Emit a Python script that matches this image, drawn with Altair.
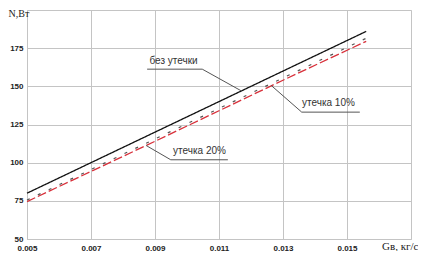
import altair as alt
import pandas as pd

# Series (G in kg/s, N in W)
G = [0.005, 0.009, 0.013, 0.0156]
N_none = [80, 120, 160, 186]
N_10 = [75.5, 115.5, 155.5, 181.5]
N_20 = [74.5, 114, 154, 179.5]

x_ticks = [0.005, 0.007, 0.009, 0.011, 0.013, 0.015, 0.017]
y_ticks = [50, 75, 100, 125, 150, 175, 200]

# Annotations
lab_text = ["без утечки", "утечка 10%", "утечка 20%"]
lab_x = [0.00958, 0.01442, 0.01039]
lab_y = [166.8, 139.3, 107.4]
under_x1 = [0.008754, 0.013585, 0.009492]
under_x2 = [0.010477, 0.01540, 0.011277]
under_y = [161.25, 133.1, 101.9]
lead_x1 = [0.010477, 0.013585, 0.009492]
lead_y1 = [161.25, 133.1, 101.9]
lead_x2 = [0.011708, 0.012630, 0.008723]
lead_y2 = [146.9, 150.6, 111.25]

W, H = 384, 229

xs = alt.Scale(domain=[0.005, 0.017], nice=False, zero=False)
ys = alt.Scale(domain=[50, 200], nice=False, zero=False)

df = pd.DataFrame({
    "G": G * 3,
    "N": N_none + N_10 + N_20,
    "s": ["none"] * 4 + ["10"] * 4 + ["20"] * 4,
})

xax = alt.Axis(values=x_ticks, tickCount=len(x_ticks),
               labelExpr="datum.value > 0.0165 ? '' : replace(format(datum.value, '.3f'), '.', ',')",
               grid=True, gridColor="#c4c4c4", domainColor="#c4c4c4", ticks=False,
               labelFont="Liberation Sans", labelFontWeight="bold", labelFontSize=8,
               labelColor="#222", labelPadding=5, labelOverlap=False, labelFlush=False,
               title="Gв, кг/с", titleFont="Liberation Serif", titleFontSize=11,
               titleFontWeight="normal", titleColor="#222",
               titleAlign="right", titleBaseline="top", titleX=W + 7, titleY=1)
yax = alt.Axis(values=y_ticks, tickCount=len(y_ticks),
               labelExpr="datum.value == 200 ? '' : datum.label",
               grid=True, gridColor="#c4c4c4", domainColor="#c4c4c4", ticks=False,
               labelFont="Liberation Sans", labelFontWeight="bold", labelFontSize=8,
               labelColor="#222", labelPadding=4, labelOverlap=False, labelFlush=False,
               title="N,Вт", titleFont="Liberation Serif", titleFontSize=10,
               titleFontWeight="normal", titleColor="#222", titleAngle=0,
               titleAlign="left", titleBaseline="top", titleX=-19, titleY=-2)

def line(series, color, dash, width):
    return alt.Chart(df[df.s == series]).mark_line(
        color=color, strokeDash=dash, strokeWidth=width
    ).encode(x=alt.X("G:Q", scale=xs, axis=xax), y=alt.Y("N:Q", scale=ys, axis=yax))

l_none = line("none", "#111111", [1, 0], 1.3)
l_20 = line("20", "#d8303a", [9, 3], 1.3)
l_10 = line("10", "#555555", [3, 9], 1.2)

ann = pd.DataFrame({
    "t": lab_text, "x": lab_x, "y": lab_y,
    "ux1": under_x1, "ux2": under_x2, "uy": under_y,
    "lx1": lead_x1, "ly1": lead_y1, "lx2": lead_x2, "ly2": lead_y2,
})

texts = alt.Chart(ann).mark_text(font="Liberation Sans", fontSize=10, color="#333",
                                 align="center", baseline="middle").encode(
    x=alt.X("x:Q", scale=xs, axis=xax), y=alt.Y("y:Q", scale=ys, axis=yax), text="t:N")
under = alt.Chart(ann).mark_rule(color="#555", strokeWidth=1).encode(
    x=alt.X("ux1:Q", scale=xs, axis=xax), x2="ux2:Q", y=alt.Y("uy:Q", scale=ys, axis=yax))
lead = alt.Chart(ann).mark_rule(color="#555", strokeWidth=1).encode(
    x=alt.X("lx1:Q", scale=xs, axis=xax), x2="lx2:Q",
    y=alt.Y("ly1:Q", scale=ys, axis=yax), y2="ly2:Q")

chart = alt.layer(l_none, l_20, l_10, under, lead, texts).properties(
    width=W, height=H,
    autosize=alt.AutoSizeParams(type="none"),
    padding={"left": 19, "top": 2, "right": 7, "bottom": 12},
).configure_view(stroke=None).configure(background="white")

chart.save("out.html", embed_options={"renderer": "svg", "actions": False})
